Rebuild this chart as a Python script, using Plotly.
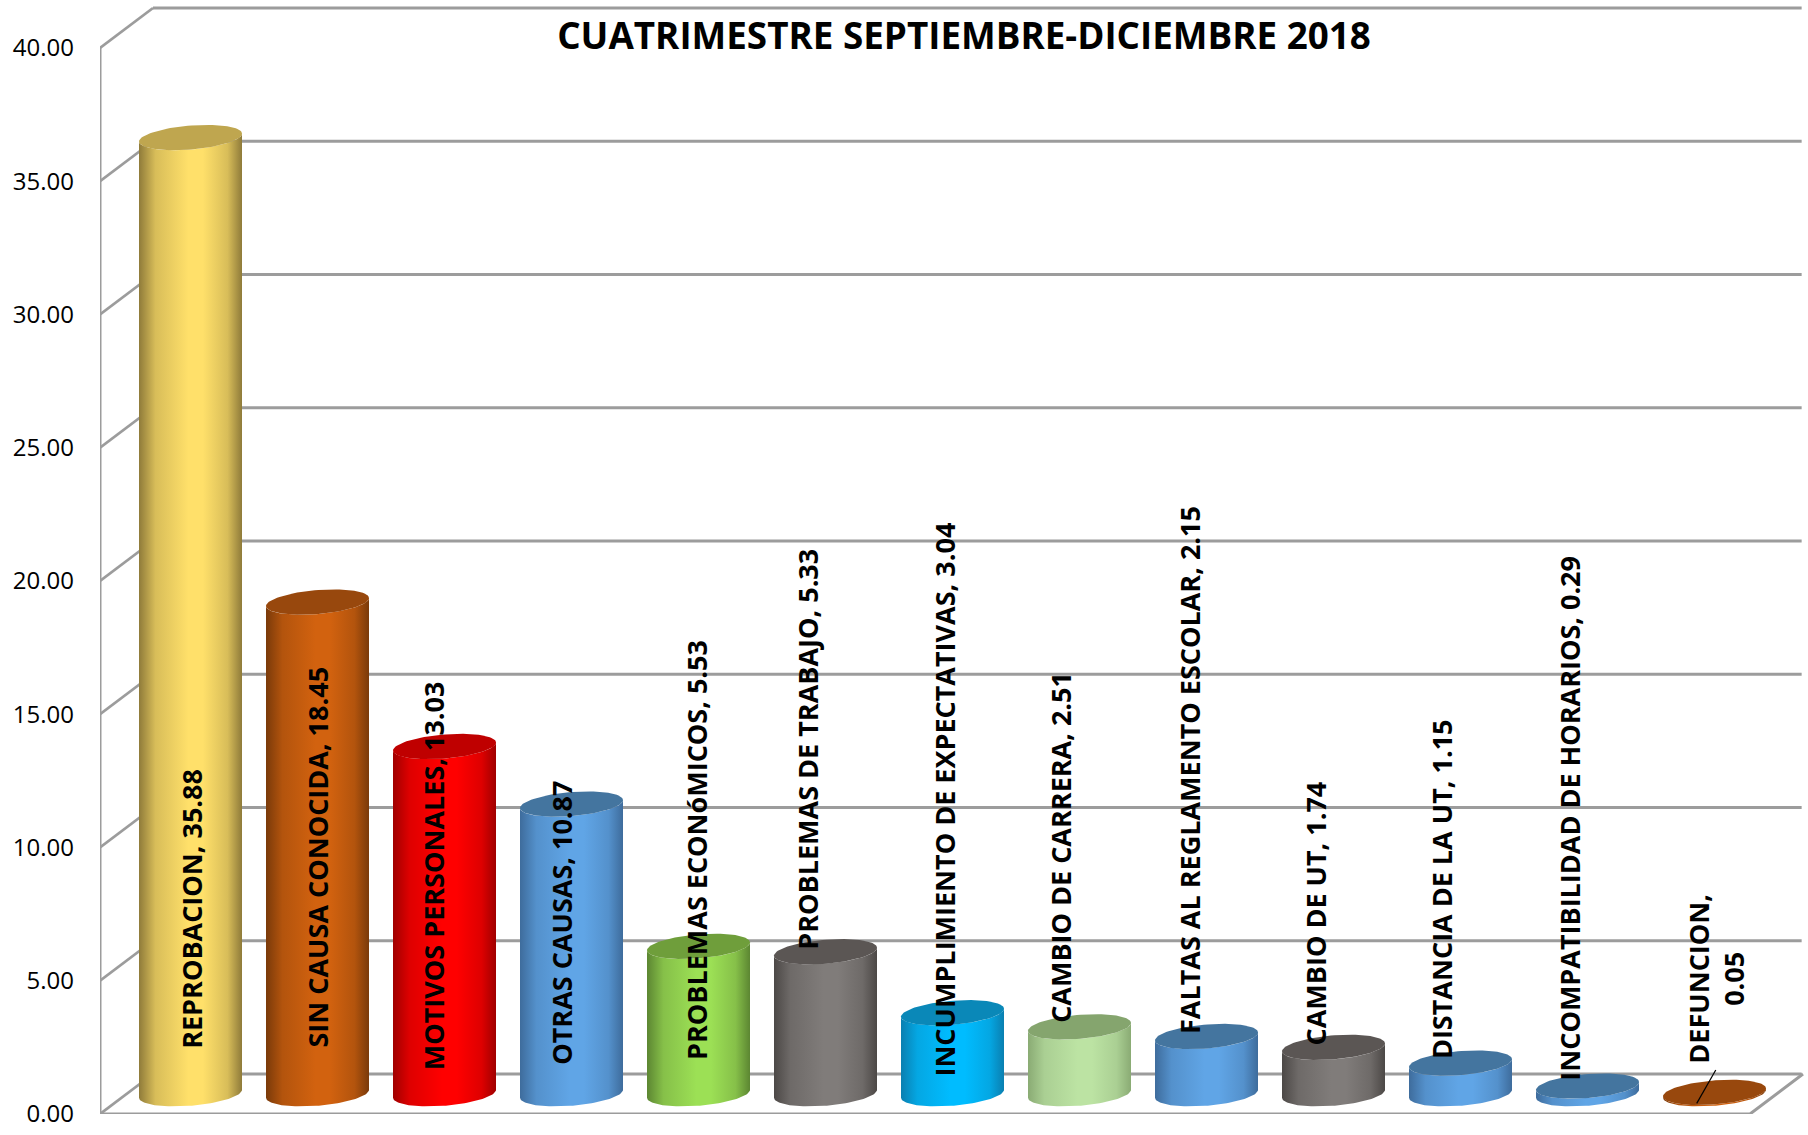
import numpy as np
import plotly.graph_objects as go

# ---- data ----
categories = ["REPROBACION", "SIN CAUSA CONOCIDA", "MOTIVOS PERSONALES", "OTRAS CAUSAS",
              "PROBLEMAS ECONóMICOS", "PROBLEMAS DE TRABAJO", "INCUMPLIMIENTO DE EXPECTATIVAS",
              "CAMBIO DE CARRERA", "FALTAS AL REGLAMENTO ESCOLAR", "CAMBIO DE UT",
              "DISTANCIA DE LA UT", "INCOMPATIBILIDAD DE HORARIOS", "DEFUNCION"]
values = [35.88, 18.45, 13.03, 10.87, 5.53, 5.33, 3.04, 2.51, 2.15, 1.74, 1.15, 0.29, 0.05]
tick_values = [0, 5, 10, 15, 20, 25, 30, 35, 40]
title_text = "CUATRIMESTRE SEPTIEMBRE-DICIEMBRE 2018"

# ---- styles (edge, centre, top) ----
YEL = ("#8f7b3a", "#ffe06a", "#bfa64f")
ORA = ("#7a3a0a", "#d2620f", "#98480d")
RED = ("#a00000", "#ff0000", "#bf0000")
BLU = ("#3e6c9c", "#60a5e6", "#44759f")
GRN = ("#5c8632", "#9ce055", "#6f9e3b")
GRY = ("#4c4846", "#807c7a", "#5b5654")
CYN = ("#0a7fb0", "#00bcff", "#0a88b8")
LGR = ("#8aab74", "#bce3a3", "#85a56e")
styles = [YEL, ORA, RED, BLU, GRN, GRY, CYN, LGR, BLU, GRY, BLU, BLU, ORA]
GRID = "#9c9c9c"

# label placement, in axis units
label_dx = [0.006, 0.0, -0.08, -0.075, -0.02, -0.14, -0.065, -0.145, -0.135, -0.145, -0.145, -0.145, 0.005]
label_y = [2.38, 2.42, 1.56, 1.77, 1.95, 6.1, 1.34, 3.33, 2.94, 2.5, 1.99, 1.16, 1.82]

# ---- frame geometry, in axis units ----
PX_X, PX_Y = 127.0, 26.65
x_left = (100 - 190.5) / PX_X
x_right = (1808 - 190.5) / PX_X
x_front_end = (1750 - 190.5) / PX_X
dep_x, dep_y = 53 / PX_X, 40 / PX_Y
y_top = 1114 / PX_Y
half_w = 51.5 / PX_X
tilt = 4.0 / PX_Y
minor = 12.0 / PX_Y
base_y = 0.76

fig = go.Figure()


def blend(a, b, f):
    ca = [int(a[k:k + 2], 16) for k in (1, 3, 5)]
    cb = [int(b[k:k + 2], 16) for k in (1, 3, 5)]
    return "#" + "".join(f"{round(p + (q - p) * f):02x}" for p, q in zip(ca, cb))


def line(xs, ys, color=GRID, width=2.8):
    fig.add_trace(go.Scatter(x=xs, y=ys, mode="lines", line=dict(color=color, width=width),
                             hoverinfo="skip", showlegend=False, cliponaxis=False))


# walls and floor
for v in tick_values:
    line([x_left + dep_x, x_right - 0.05], [v + dep_y, v + dep_y])
    line([x_left, x_left + dep_x], [v, v + dep_y])
line([x_left, x_left], [0, 40], width=3)
line([x_left, x_front_end, x_front_end + dep_x], [0, 0, dep_y], width=3)


def ellipse(cx, cy, t):
    return cx + half_w * np.cos(t), cy + tilt * np.cos(t) + minor * np.sin(t)


# cylinders
for i, (v, st) in enumerate(zip(values, styles)):
    edge, mid, top = st
    low = np.linspace(np.pi, 2 * np.pi, 60)
    bx, by = ellipse(i, base_y, low)
    tx, ty = ellipse(i, base_y + v, low[::-1])
    fig.add_trace(go.Scatter(
        x=np.r_[bx, tx, bx[0]], y=np.r_[by, ty, by[0]], mode="lines", line=dict(width=0),
        fill="toself", hoverinfo="skip", showlegend=False,
        fillgradient=dict(type="horizontal", start=i - half_w, stop=i + half_w,
                          colorscale=[[0, edge], [0.16, blend(edge, mid, 0.65)], [0.48, mid], [0.62, mid],
                                      [0.86, blend(edge, mid, 0.65)], [1, edge]]),
    ))
    whole = np.linspace(0, 2 * np.pi, 90)
    ex, ey = ellipse(i, base_y + v, whole)
    fig.add_trace(go.Scatter(x=ex, y=ey, mode="lines", line=dict(width=0), fill="toself",
                             fillcolor=top, hoverinfo="skip", showlegend=False))

# leader line of the last label
last = len(values) - 1
line([last - 0.14, last + 0.01], [values[last] + 0.35, values[last] + 1.6], color="#000000", width=1.2)

# data labels
LABEL_FONT = dict(family="Open Sans", size=27, color="#000000", weight="bold")
for i, (c, v) in enumerate(zip(categories, values)):
    sep = ",<br>" if i == last else ", "
    fig.add_annotation(x=i + label_dx[i], y=label_y[i], xanchor="center", yanchor="bottom",
                       text=f"{c}{sep}{v:.2f}", textangle=-90, showarrow=False,
                       font=LABEL_FONT, align="center")

fig.update_layout(
    width=1808, height=1135, margin=dict(l=100, r=0, t=0, b=21, pad=0),
    paper_bgcolor="#ffffff", plot_bgcolor="#ffffff", showlegend=False,
    title=dict(text=title_text, x=964 / 1808, xanchor="center", y=1 - 36 / 1135, yanchor="middle",
               font=dict(family="Open Sans", size=36.8, color="#000000", weight="bold")),
    xaxis=dict(range=[x_left, x_right], visible=False, fixedrange=True),
    yaxis=dict(range=[0, y_top], tickvals=tick_values, tickformat=".2f", showgrid=False, zeroline=False,
               showline=False, ticks="", ticklabelstandoff=25, fixedrange=True,
               tickfont=dict(family="Open Sans", size=24, color="#000000")),
)
fig.write_html("out.html", config=dict(displayModeBar=False),
               post_script="document.body.style.margin='0';document.body.style.overflow='hidden';")
